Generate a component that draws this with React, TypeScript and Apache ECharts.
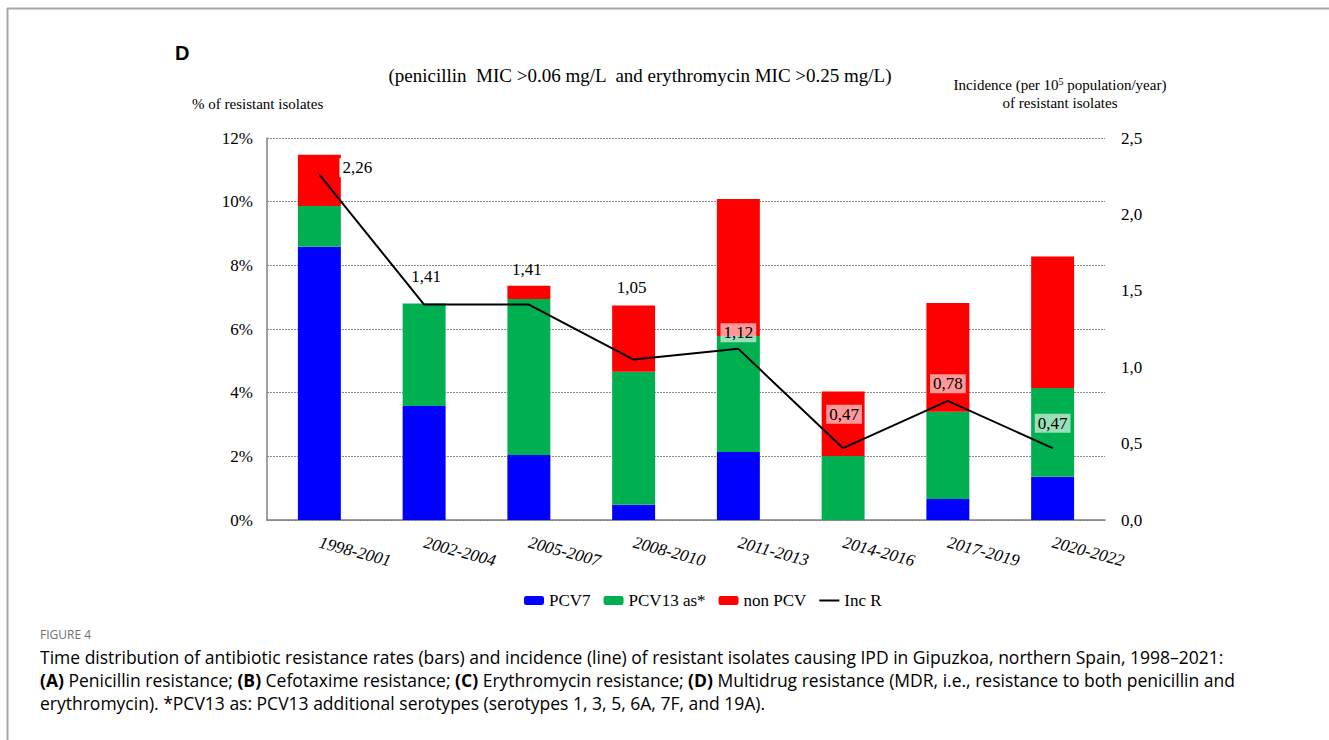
import React, { useEffect, useRef } from "react";
import * as echarts from "echarts";

const categories = ["1998-2001", "2002-2004", "2005-2007", "2008-2010", "2011-2013", "2014-2016", "2017-2019", "2020-2022"];
const pcv7 = [8.58, 3.58, 2.04, 0.48, 2.14, 0, 0.66, 1.36];
const pcv13 = [1.28, 3.22, 4.9, 4.18, 3.64, 2.01, 2.74, 2.79];
const nonPcv = [1.61, 0, 0.42, 2.08, 4.3, 2.03, 3.42, 4.13];
const incR = [2.26, 1.41, 1.41, 1.05, 1.12, 0.47, 0.78, 0.47];
const leftTicks = [0, 2, 4, 6, 8, 10, 12];
const rightTicks = [0, 0.5, 1, 1.5, 2, 2.5];

// label placement (layout only)
const labelOffsets = [[38, -7], [2, -28], [-2, -35], [-2, -72], [0, -16], [1, -34], [0, -17], [0, -25]];
const labelBgs = ["#ffffff", "transparent", "transparent", "transparent", "rgba(255,255,255,0.6)", "rgba(255,255,255,0.6)", "rgba(255,255,255,0.6)", "rgba(255,255,255,0.6)"];

const SERIF = "Liberation Serif";
const SANS = "Open Sans";

const fmtComma = (v: number, d: number) => v.toFixed(d).replace(".", ",");

export default function App() {
  const ref = useRef<HTMLDivElement>(null);
  useEffect(() => {
    if (!ref.current) return;
    const chart = echarts.init(ref.current, null, { renderer: "svg" });
    const captionColor = "#707070";
    const option: any = {
      animation: false,
      backgroundColor: "#ffffff",
      textStyle: { fontFamily: SERIF },
      grid: { left: 267, right: 224, top: 138, bottom: 220 },
      legend: {
        top: 587,
        left: 519,
        itemWidth: 20,
        itemHeight: 9,
        itemGap: 13,
        textStyle: { fontFamily: SERIF, fontSize: 17, color: "#000" },
        data: [
          { name: "PCV7" },
          { name: "PCV13 as*" },
          { name: "non PCV" },
          { name: "Inc R", icon: "path://M0,0 H20 V2 H0 Z" },
        ],
      },
      xAxis: {
        type: "category",
        data: categories,
        axisLine: { lineStyle: { color: "#7f7f7f", width: 1.5 } },
        axisTick: { show: false },
        axisLabel: {
          rotate: -15,
          margin: 22,
          fontFamily: SERIF,
          fontSize: 17,
          color: "#000",
          fontStyle: "italic",
        },
      },
      yAxis: [
        {
          type: "value",
          min: leftTicks[0],
          max: leftTicks[leftTicks.length - 1],
          interval: 2,
          axisLine: { show: true, lineStyle: { color: "#7f7f7f", width: 1.5 } },
          axisTick: { show: false },
          splitLine: { lineStyle: { color: "#8a8a8a", type: [2, 1], width: 1 } },
          axisLabel: { formatter: (v: number) => v + "%", fontFamily: SERIF, fontSize: 17, color: "#000", margin: 14 },
        },
        {
          type: "value",
          min: rightTicks[0],
          max: rightTicks[rightTicks.length - 1],
          interval: 0.5,
          axisLine: { show: false },
          axisTick: { show: false },
          splitLine: { show: false },
          axisLabel: { formatter: (v: number) => fmtComma(v, 1), fontFamily: SERIF, fontSize: 17, color: "#000", margin: 16 },
        },
      ],
      series: [
        { name: "PCV7", type: "bar", stack: "s", barWidth: "41%", data: pcv7, itemStyle: { color: "#0000ff" } },
        { name: "PCV13 as*", type: "bar", stack: "s", data: pcv13, itemStyle: { color: "#00b050" } },
        { name: "non PCV", type: "bar", stack: "s", data: nonPcv, itemStyle: { color: "#ff0000" } },
        {
          name: "Inc R",
          type: "line",
          yAxisIndex: 1,
          data: incR.map((v, i) => ({
            value: v,
            label: {
              show: true,
              position: "inside",
              offset: labelOffsets[i],
              backgroundColor: labelBgs[i],
              padding: [2, 3, 0, 3],
            },
          })),
          symbol: "circle",
          symbolSize: 1,
          itemStyle: { color: "#000" },
          lineStyle: { color: "#000", width: 2 },
          label: {
            show: true,
            formatter: (p: any) => fmtComma(p.value, 2),
            fontFamily: SERIF,
            fontSize: 17,
            color: "#000",
          },
          z: 5,
        },
      ],
      graphic: [
        { type: "line", shape: { x1: 7, y1: 8.5, x2: 1329, y2: 8.5 }, style: { stroke: "#a8a8a8", lineWidth: 2 } },
        { type: "line", shape: { x1: 7.5, y1: 8, x2: 7.5, y2: 740 }, style: { stroke: "#a8a8a8", lineWidth: 2 } },
        { type: "text", left: 175, top: 43, style: { text: "D", font: "bold 20px 'Liberation Sans', Arial, sans-serif", fill: "#000" } },
        {
          type: "text",
          x: 640,
          y: 66,
          style: { text: "(penicillin  MIC >0.06 mg/L  and erythromycin MIC >0.25 mg/L)", font: "19px " + SERIF, fill: "#000", align: "center" },
        },
        { type: "text", left: 192, top: 96, style: { text: "% of resistant isolates", font: "15px " + SERIF, fill: "#000" } },
        {
          type: "text",
          x: 1060,
          y: 76,
          style: {
            text: "{a|Incidence (per 10}{s|5}{a| population/year)}\n{a|of resistant isolates}",
            align: "center",
            rich: {
              a: { fontFamily: SERIF, fontSize: 15, lineHeight: 18, color: "#000" },
              s: { fontFamily: SERIF, fontSize: 10, verticalAlign: "top", lineHeight: 18, color: "#000" },
            },
          },
        },
        { type: "text", left: 40, top: 628, style: { text: "FIGURE 4", font: "12px " + SANS, fill: captionColor } },
        {
          type: "text",
          left: 40,
          top: 648,
          style: {
            text:
              "{n|Time distribution of antibiotic resistance rates (bars) and incidence (line) of resistant isolates causing IPD in Gipuzkoa, northern Spain, 1998–2021:}\n" +
              "{b|(A)}{n| Penicillin resistance; }{b|(B)}{n| Cefotaxime resistance; }{b|(C)}{n| Erythromycin resistance; }{b|(D)}{n| Multidrug resistance (MDR, i.e., resistance to both penicillin and}\n" +
              "{n|erythromycin). *PCV13 as: PCV13 additional serotypes (serotypes 1, 3, 5, 6A, 7F, and 19A).}",
            rich: {
              n: { fontFamily: SANS, fontSize: 17.5, lineHeight: 23, color: captionColor },
              b: { fontFamily: SANS, fontSize: 17.5, lineHeight: 23, fontWeight: "bold", color: "#5a5a5a" },
            },
          },
        },
      ],
    };
    chart.setOption(option);
    return () => chart.dispose();
  }, []);
  return <div ref={ref} style={{ position: "fixed", left: 0, top: 0, width: 1329, height: 740 }} />;
}
